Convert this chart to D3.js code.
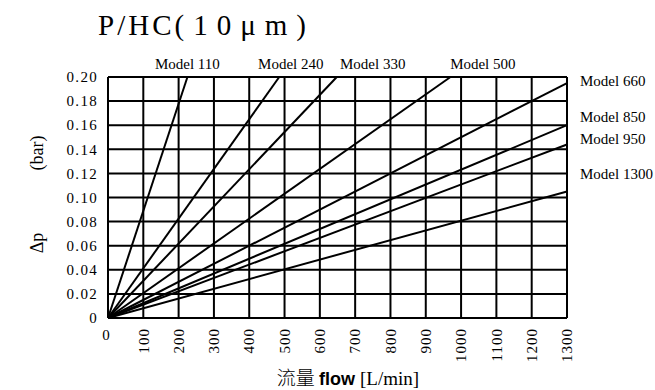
<!DOCTYPE html>
<html>
<head>
<meta charset="utf-8">
<script src="https://cdn.jsdelivr.net/npm/d3@7"></script>
<style>
  body { margin: 0; background: #fff; }
  text { fill: #000; }
</style>
</head>
<body>
<svg id="chart" width="655" height="390"></svg>
<script>
// Filter element models and their pressure-drop lines (start at the origin)
const models   = ["Model 110", "Model 240", "Model 330", "Model 500",
                  "Model 660", "Model 850", "Model 950", "Model 1300"];
const endFlow  = [225, 485, 648, 970, 1300, 1300, 1300, 1300];
const endDp    = [0.20, 0.20, 0.20, 0.20, 0.195, 0.160, 0.144, 0.105];

// Label anchors in data units: top row by flow, right column by Δp
const topLabelFlow  = [133, 425, 657, 969];
const rightLabelDp  = [0.197, 0.167, 0.149, 0.120];

const flowTicks = [0, 100, 200, 300, 400, 500, 600, 700, 800, 900, 1000, 1100, 1200, 1300];
const dpTicks   = [0, 0.02, 0.04, 0.06, 0.08, 0.10, 0.12, 0.14, 0.16, 0.18, 0.20];
const dpTickLabels = ["0", "0.02", "0.04", "0.06", "0.08", "0.10", "0.12", "0.14", "0.16", "0.18", "0.20"];

const serif = "'Liberation Serif', 'DejaVu Serif', serif";

const svg = d3.select("#chart");
const plotLeft = 108, plotRight = 567, plotTop = 77, plotBottom = 318;

const x = d3.scaleLinear().domain([0, 1300]).range([plotLeft, plotRight]);
const y = d3.scaleLinear().domain([0, 0.2]).range([plotBottom, plotTop]);

// Grid
const grid = svg.append("g").attr("stroke", "#000").attr("stroke-width", 2);
grid.selectAll("line.v").data(flowTicks).join("line")
  .attr("class", "v")
  .attr("x1", d => x(d)).attr("x2", d => x(d))
  .attr("y1", y(0)).attr("y2", y(0.2));
grid.selectAll("line.h").data(dpTicks).join("line")
  .attr("class", "h")
  .attr("y1", d => y(d)).attr("y2", d => y(d))
  .attr("x1", x(0)).attr("x2", x(1300));

// Model lines
svg.append("g").selectAll("line").data(models).join("line")
  .attr("x1", x(0)).attr("y1", y(0))
  .attr("x2", (d, i) => x(endFlow[i]))
  .attr("y2", (d, i) => y(endDp[i]))
  .attr("stroke", "#000").attr("stroke-width", 2);

// Y tick labels
svg.append("g").selectAll("text").data(dpTicks).join("text")
  .attr("x", 98).attr("y", d => y(d)).attr("dy", "0.35em")
  .attr("text-anchor", "end")
  .style("font-family", serif).style("font-size", "15px")
  .style("letter-spacing", "1.3px")
  .text((d, i) => dpTickLabels[i]);

// X tick labels (rotated, except 0)
const xl = svg.append("g");
xl.append("text")
  .attr("x", x(0) - 2).attr("y", 340)
  .attr("text-anchor", "middle")
  .style("font-family", serif).style("font-size", "15px")
  .text(flowTicks[0]);
xl.selectAll("text.r").data(flowTicks.slice(1)).join("text")
  .attr("class", "r")
  .attr("transform", d => `translate(${x(d)},328) rotate(-90)`)
  .attr("dy", "0.35em")
  .attr("text-anchor", "end")
  .style("font-family", serif).style("font-size", "15px")
  .style("letter-spacing", "1px")
  .text(d => d);

// Model labels
svg.append("g").selectAll("text").data(models.slice(0, 4)).join("text")
  .attr("x", (d, i) => x(topLabelFlow[i])).attr("y", 69)
  .style("font-family", serif).style("font-size", "15px")
  .text(d => d);
svg.append("g").selectAll("text").data(models.slice(4)).join("text")
  .attr("x", 580).attr("y", (d, i) => y(rightLabelDp[i])).attr("dy", "0.35em")
  .style("font-family", serif).style("font-size", "15px")
  .text(d => d);

// Title
const title = svg.append("text")
  .attr("x", 98).attr("y", 35)
  .style("font-family", serif).style("font-size", "29px");
title.append("tspan").style("letter-spacing", "3px").text("P/HC");
title.append("tspan").style("letter-spacing", "9px").text("(10μm)");

// Axis titles
const xt = svg.append("text")
  .attr("x", 348).attr("y", 385)
  .attr("text-anchor", "middle")
  .style("font-size", "19px");
xt.append("tspan").style("font-family", "'Noto Sans CJK SC'").style("font-weight", 300).text("流量 ");
xt.append("tspan").style("font-family", "'Liberation Sans', sans-serif").style("font-weight", "bold")
  .style("font-size", "18px").text("flow ");
xt.append("tspan").style("font-family", serif).text("[L/min]");

const yt = svg.append("g").attr("transform", "translate(37,0)")
  .style("font-family", serif).style("font-size", "18px");
yt.append("text")
  .attr("transform", "translate(0,243) rotate(-90)")
  .attr("text-anchor", "middle").attr("dy", "0.35em")
  .text("Δp");
yt.append("text")
  .attr("transform", "translate(0,153) rotate(-90)")
  .attr("text-anchor", "middle").attr("dy", "0.35em")
  .text("(bar)");
</script>
</body>
</html>
